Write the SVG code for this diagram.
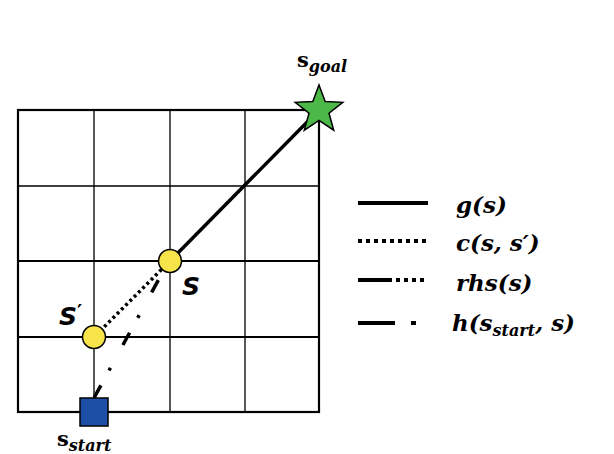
<svg xmlns="http://www.w3.org/2000/svg" width="614" height="454" viewBox="0 0 614 454">
<style>
.grid{stroke:#000;stroke-width:1.3;fill:none}
.border{stroke:#000;stroke-width:2.2;fill:none}
.g{stroke:#000;stroke-width:3.5;fill:none}
.c{stroke:#000;stroke-width:3.5;fill:none;stroke-dasharray:3 3}
.h{stroke:#000;stroke-width:3.5;fill:none;stroke-dasharray:14 26 3 17;stroke-dashoffset:44}
.lbl{font-family:"DejaVu Serif","Liberation Serif",serif;font-weight:bold;fill:#000}
.leg{font-family:"DejaVu Serif","Liberation Serif",serif;font-weight:bold;font-style:italic;font-size:23px;fill:#000}
.sl{font-family:"DejaVu Sans","Liberation Sans",sans-serif;font-weight:bold;font-style:italic;font-size:25px;fill:#000}
</style>
<rect width="614" height="454" fill="#fff"/>
<g id="grid">
<path class="grid" d="M94 110V412M170 110V412M245 110V412M18 186H319M18 261H319M18 337H319"/>
<rect class="border" x="18" y="110" width="301" height="302"/>
<path d="M18 261H319M18 337H319" stroke="#000" stroke-width="2.2"/>
</g>
<g id="connectors">
<line class="g" x1="170" y1="261" x2="319" y2="110"/>
<line class="c" x1="170" y1="261" x2="94" y2="337"/>
<line class="h" x1="166" y1="266" x2="94" y2="398"/>
</g>
<g id="goal">
<polygon points="319,85 325.2,101.5 342.8,102.3 329,113.2 333.7,130.2 319,120.4 304.3,130.2 309,113.2 295.2,102.3 312.8,101.5" fill="#4cb848" stroke="#000" stroke-width="1.5"/>
<text class="lbl" x="297" y="67" font-size="21">s<tspan font-style="italic" font-size="16" dy="5">goal</tspan></text>
</g>
<g id="s">
<circle cx="170" cy="261" r="11.5" fill="#f7e44a" stroke="#000" stroke-width="1.5"/>
<text class="sl" x="182" y="295">S</text>
</g>
<g id="s-prime">
<circle cx="94" cy="337" r="11.5" fill="#f7e44a" stroke="#000" stroke-width="1.5"/>
<text class="sl" x="59" y="325">S<tspan font-family="DejaVu Serif, serif" font-style="normal" font-size="20" dy="-6">′</tspan></text>
</g>
<g id="start">
<rect x="80" y="398" width="28" height="28" fill="#1d4fa6" stroke="#000" stroke-width="1.5"/>
<text class="lbl" x="57" y="446" font-size="21">s<tspan font-style="italic" font-size="16" dy="5">start</tspan></text>
</g>
<g id="legend">
<line x1="358" y1="203" x2="428" y2="203" stroke="#000" stroke-width="4"/>
<line x1="358" y1="241" x2="428" y2="241" stroke="#000" stroke-width="4" stroke-dasharray="4 4"/>
<path d="M358 280H392" stroke="#000" stroke-width="4"/>
<path d="M396 280H428" stroke="#000" stroke-width="4" stroke-dasharray="4 4"/>
<path d="M358 323H395M411 323H416" stroke="#000" stroke-width="4"/>
<text class="leg" x="456" y="213">g(s)</text>
<text class="leg" x="456" y="251">c(s, s′)</text>
<text class="leg" x="456" y="291">rhs(s)</text>
<text class="leg" x="452" y="331">h(s<tspan font-size="16" dy="5">start</tspan><tspan dy="-5">, s)</tspan></text>
</g>
</svg>
